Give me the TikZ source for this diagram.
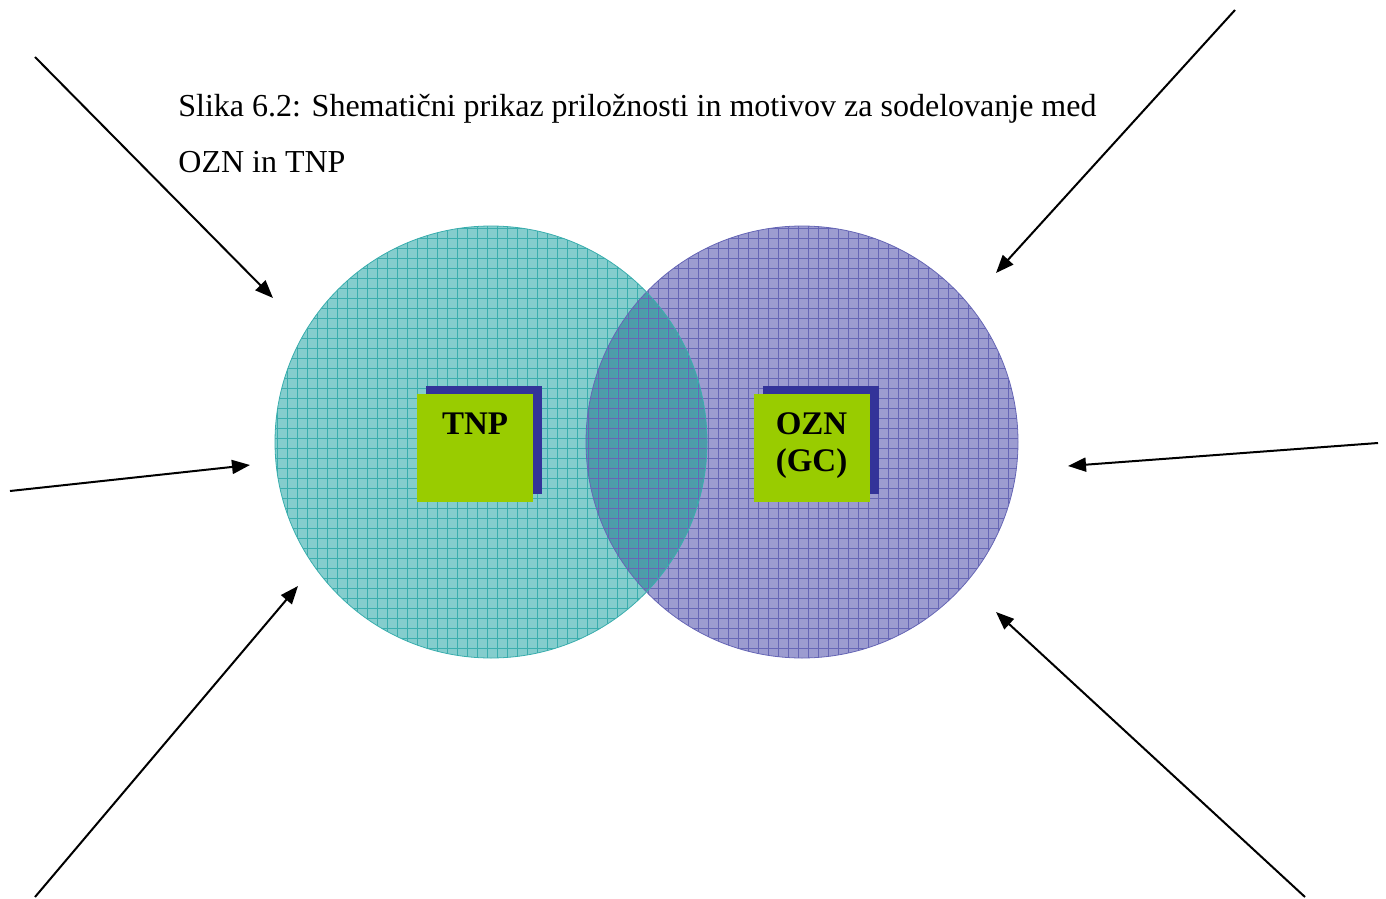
\documentclass[tikz,border=0pt]{standalone}
\usepackage{fontspec}
\setmainfont{Liberation Serif}
\usetikzlibrary{arrows.meta,shadows}
\definecolor{cTnp}{HTML}{84CDCD}
\definecolor{cTnpLine}{HTML}{3AADAD}
\definecolor{cOzn}{HTML}{9C9CD0}
\definecolor{cOznLine}{HTML}{6666B5}
\definecolor{cBoth}{HTML}{4E9CAA}
\definecolor{cBox}{HTML}{99CC00}
\definecolor{cShade}{HTML}{333399}
\newcommand{\tnpdisc}{(491,442) circle[radius=216]}
\newcommand{\ozndisc}{(802,442) circle[radius=216]}
\tikzset{
  disc/.style    = {circle, inner sep=0pt, minimum size=216pt},
  gridline/.style = {line width=0.3pt},
  box/.style     = {fill=cBox, inner sep=0pt, minimum width=58pt, minimum height=54pt,
                    drop shadow={shadow xshift=4.5pt, shadow yshift=4pt,
                                 fill=cShade, opacity=1}},
  boxtext/.style = {font=\fontsize{16.5}{18.5}\selectfont\bfseries, align=center,
                    inner sep=0pt, anchor=north},
  caption/.style = {font=\fontsize{16}{27.5}\selectfont, inner sep=0pt, anchor=base west},
  arr/.style     = {-{Triangle[length=9pt,width=7pt]}, line width=1pt},
}
\begin{document}
\begin{tikzpicture}[x=0.5pt, y=-0.5pt]
  \useasboundingbox (0,0) rectangle (1386,899);
  % discs
  \fill[cOzn] \ozndisc;
  \fill[cTnp] \tnpdisc;
  \begin{scope}
    \clip \tnpdisc;
    \fill[cBoth] \ozndisc;
  \end{scope}
  % grid texture
  \begin{scope}
    \clip \tnpdisc;
    \foreach \g in {277,287,...,707} \draw[gridline, cTnpLine] (\g,226) -- (\g,658);
    \foreach \g in {228,238,...,658} \draw[gridline, cTnpLine] (275,\g) -- (707,\g);
  \end{scope}
  \begin{scope}
    \clip \ozndisc;
    \foreach \g in {588,598,...,1018} \draw[gridline, cOznLine] (\g,226) -- (\g,658);
    \foreach \g in {228,238,...,658} \draw[gridline, cOznLine] (586,\g) -- (1018,\g);
  \end{scope}
  \node[disc, draw=cOznLine, thin] (ozn) at (802,442) {};
  \node[disc, draw=cTnpLine, thin] (tnp) at (491,442) {};
  % boxes
  \node[box] (tnpbox) at (475,448) {};
  \node[boxtext] (tnplab) at ([yshift=-9.5pt]tnpbox.north) {TNP};
  \node[box] (oznbox) at (811.5,448) {};
  \node[boxtext] (oznlab) at ([yshift=-9.5pt]oznbox.north) {OZN\\(GC)};
  % caption
  \node[caption] (cap1) at (178,117)
    {Slika 6.2: Shematični prikaz priložnosti in motivov za sodelovanje med};
  \node[caption] (cap2) at (178,172) {OZN in TNP};
  % arrows
  \coordinate (nw0) at (35,57);    \coordinate (nw1) at (273,298);
  \coordinate (w0)  at (10,491);   \coordinate (w1)  at (250,465);
  \coordinate (sw0) at (35,897);   \coordinate (sw1) at (298,586);
  \coordinate (ne0) at (1235,10);  \coordinate (ne1) at (996,273);
  \coordinate (e0)  at (1378,443); \coordinate (e1)  at (1068,466);
  \coordinate (se0) at (1305,897); \coordinate (se1) at (996,612);
  \foreach \n in {nw,w,sw,ne,e,se} \draw[arr] (\n0) -- (\n1);
\end{tikzpicture}
\end{document}
